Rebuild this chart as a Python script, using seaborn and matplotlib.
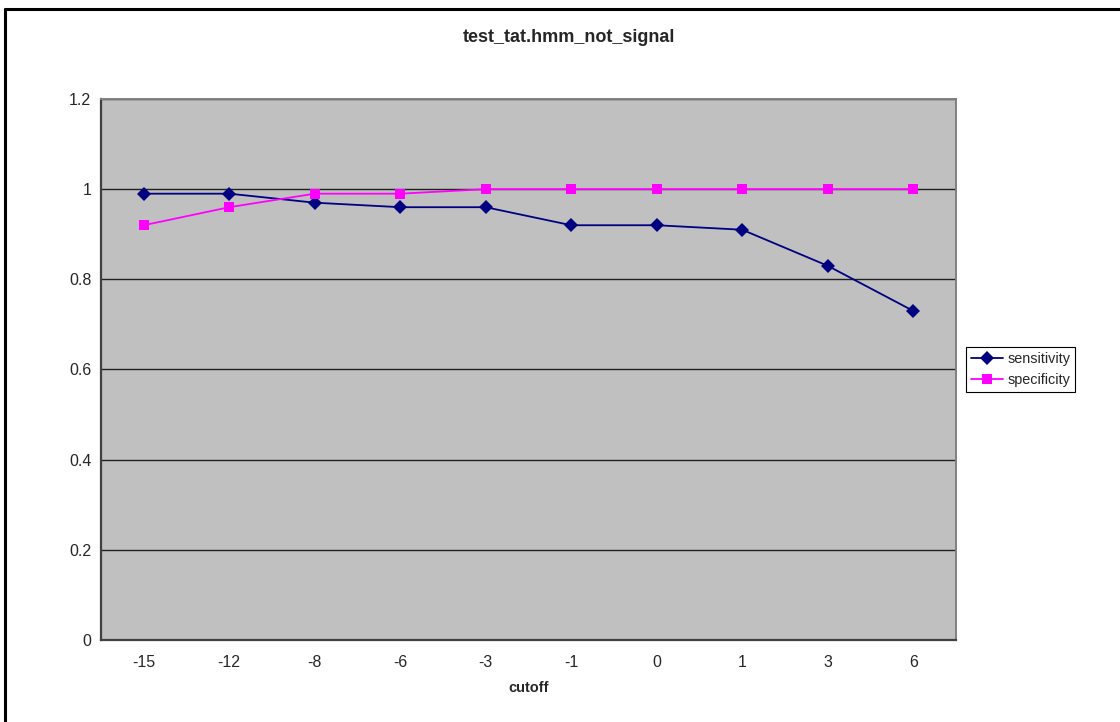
"""Sensitivity / specificity versus cutoff, Excel-style line chart."""

import pandas as pd
import matplotlib
matplotlib.use("Agg")
import matplotlib.pyplot as plt
from matplotlib.lines import Line2D
from matplotlib.ticker import FixedLocator, MultipleLocator, FuncFormatter
import seaborn as sns

cutoffs = ["-15", "-12", "-8", "-6", "-3", "-1", "0", "1", "3", "6"]
sensitivity = [0.99, 0.99, 0.97, 0.96, 0.96, 0.92, 0.92, 0.91, 0.83, 0.73]
specificity = [0.92, 0.96, 0.99, 0.99, 1.0, 1.0, 1.0, 1.0, 1.0, 1.0]

title = "test_tat.hmm_not_signal"
x_label = "cutoff"


def tick_label(value: float, _) -> str:
  """Excel-like general number format."""
  return f"{value:g}"


df = pd.concat([
  pd.DataFrame({"cutoff": cutoffs, "value": sensitivity, "series": "sensitivity"}),
  pd.DataFrame({"cutoff": cutoffs, "value": specificity, "series": "specificity"}),
])

sns.set_style("white")
plt.rcParams["font.family"] = ["Liberation Sans", "DejaVu Sans"]

fig = plt.figure(figsize=(11.2, 7.22), dpi=100)
ax = fig.add_axes([101 / 1120, 1 - 640 / 722, (956 - 101) / 1120, (640 - 99) / 722])
ax.set_facecolor("#c0c0c0")

sns.lineplot(
  data=df,
  x="cutoff",
  y="value",
  hue="series",
  style="series",
  palette={"sensitivity": "#000080", "specificity": "#ff00ff"},
  markers={"sensitivity": "D", "specificity": "s"},
  dashes=False,
  linewidth=1.3,
  markersize=7,
  markeredgewidth=0,
  sort=False,
  ax=ax,
  zorder=3,
)

# Axes formatting
ax.set_xlim(-0.5, len(cutoffs) - 0.5)
ax.set_ylim(0, 1.2)
ax.yaxis.set_major_locator(MultipleLocator(0.2))
ax.yaxis.set_major_formatter(FuncFormatter(tick_label))
ax.grid(axis="y", color="#202020", linewidth=1.0)
ax.set_axisbelow(True)

ax.xaxis.set_major_locator(FixedLocator(range(len(cutoffs))))
ax.set_xticklabels(cutoffs)
ax.xaxis.set_minor_locator(FixedLocator([i - 0.5 for i in range(len(cutoffs) + 1)]))
ax.tick_params(axis="x", which="major", length=0, pad=11, labelsize=11.5)
ax.tick_params(axis="x", which="minor", length=3.5, width=1, color="#202020", direction="out")
ax.tick_params(axis="y", length=3, width=1, color="#202020", direction="out", labelsize=11.5, pad=4)

ax.set_xlabel(x_label, fontsize=10.5, fontweight="bold", labelpad=8)
ax.set_ylabel("")

for side in ["left", "bottom"]:
  ax.spines[side].set_color("#404040")
  ax.spines[side].set_linewidth(1.6)
for side in ["top", "right"]:
  ax.spines[side].set_color("#808080")
  ax.spines[side].set_linewidth(1.4)
  ax.spines[side].set_visible(True)

ax.legend(
  title=None,
  loc="center left",
  bbox_to_anchor=(1.012, 0.5),
  fontsize=10.4,
  frameon=True,
  fancybox=False,
  edgecolor="black",
  framealpha=1,
  handlelength=2.2,
  handletextpad=0.3,
  borderpad=0.35,
  labelspacing=0.5,
  borderaxespad=0,
).get_frame().set_linewidth(0.8)

# Chart title, centred on the whole chart area
fig.text(569 / 1120, 1 - 38 / 722, title, fontsize=13, fontweight="bold",
         ha="center", va="center")

# Outer chart border (left and top edges visible)
fig.add_artist(Line2D([4.5 / 1120, 4.5 / 1120], [0, 1 - 9 / 722], color="black", linewidth=2.2))
fig.add_artist(Line2D([4.5 / 1120, 1], [1 - 9 / 722, 1 - 9 / 722], color="black", linewidth=2.2))

fig.savefig("out.png", dpi=100)
